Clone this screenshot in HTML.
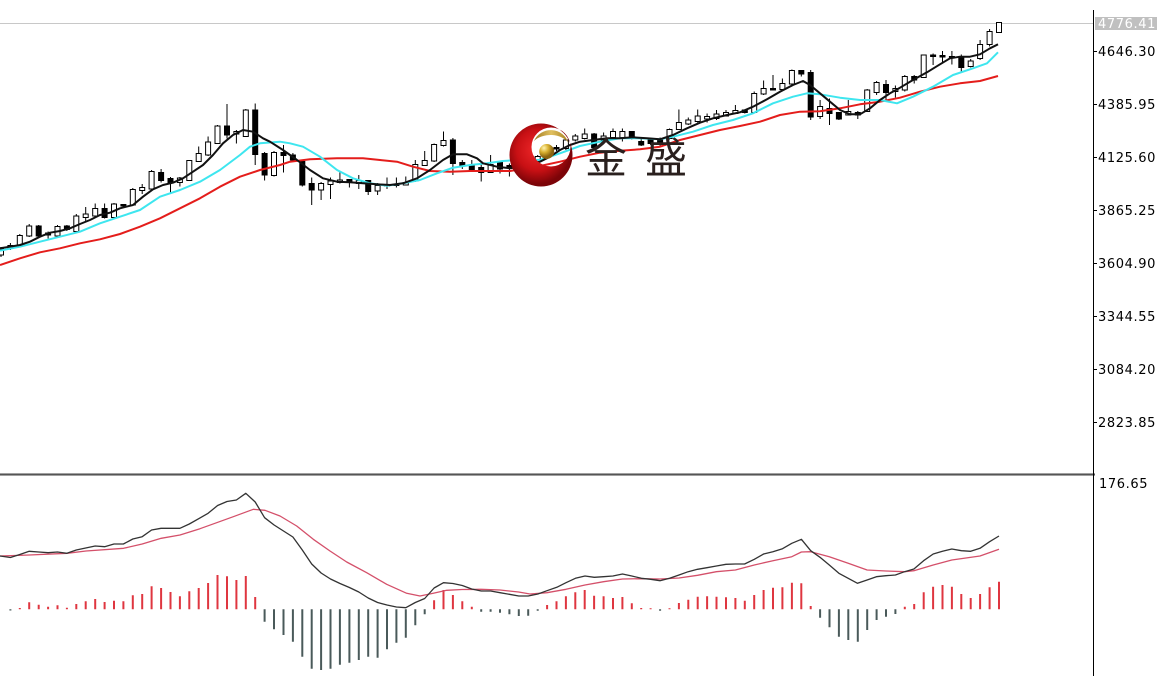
<!DOCTYPE html>
<html><head><meta charset="utf-8"><style>
html,body{margin:0;padding:0;background:#fff;}
svg{display:block;}
.ax{font-family:"DejaVu Sans","Liberation Sans",sans-serif;font-size:13px;letter-spacing:0.6px;fill:#000;}
</style></head><body>
<svg width="1157" height="676" viewBox="0 0 1157 676" xmlns="http://www.w3.org/2000/svg">
<defs>
<radialGradient id="rg" cx="537" cy="150" r="34" gradientUnits="userSpaceOnUse">
<stop offset="0" stop-color="#f0282a"/><stop offset="0.6" stop-color="#c81014"/><stop offset="1" stop-color="#7c0408"/>
</radialGradient>
<radialGradient id="gb" cx="544" cy="148" r="9" gradientUnits="userSpaceOnUse">
<stop offset="0" stop-color="#fff4b0"/><stop offset="0.5" stop-color="#d8b030"/><stop offset="1" stop-color="#8a6410"/>
</radialGradient>
<linearGradient id="ga" x1="0" y1="0" x2="1" y2="0">
<stop offset="0" stop-color="#a07a20"/><stop offset="0.5" stop-color="#e0c060"/><stop offset="1" stop-color="#a88020"/>
</linearGradient>
</defs>
<rect width="1157" height="676" fill="#fff"/>
<line x1="0" y1="23.5" x2="1093" y2="23.5" stroke="#c8c8c8" stroke-width="1"/>
<path fill="none" stroke="#000" stroke-width="1" d="M1 247V257M10.4 243V250M19.8 234V247M29.2 224V237M38.7 225V237M48.1 231.5V238.5M57.5 225V237M66.9 225V231M76.3 214V232M85.7 207V221.5M95.2 203.5V217M104.6 203.5V218.5M114 203V218M123.4 204V206.5M132.8 188V206M142.2 184V194M151.6 170V190M161.1 169V182.5M170.5 177V192.5M179.9 177V186.5M189.3 160V181M198.7 146.5V162M208.1 136.5V156M217.5 125V144M227 104V138.5M236.4 130V143.5M245.8 109V137M255.2 103.5V165M264.6 152V180.5M274 151V176.5M283.5 145V172.5M292.9 153V161.5M302.3 160V186.5M311.7 177.5V205M321.1 182V200M330.5 177.5V199M339.9 172.5V183.5M349.4 179V187.5M358.8 175V189M368.2 180V195M377.6 183V195M387 177.5V189M396.4 177.5V187.5M405.8 176.5V185.5M415.3 160V182M424.7 151V166M434.1 143.5V162M443.5 131.5V146.5M452.9 138V175M462.3 160V169M471.8 160V171.5M481.2 163.5V181.5M490.6 155V173M500 161V173.5M509.4 163.5V176.5M518.8 158V170M528.2 156V168M537.7 155V163M547.1 147V156M556.5 145V151M565.9 139V150M575.3 134V141.5M584.7 128.5V139.5M594.1 133V151.5M603.6 132.5V141.5M613 128.5V138.5M622.4 128.5V141.5M631.8 131V139.5M641.2 137.5V146M650.6 137.5V145M660.1 137.5V146.5M669.5 128.5V139.5M678.9 109.5V130M688.3 117.5V125M697.7 109.5V122.5M707.1 113.5V122.5M716.5 110V120M726 110V116.5M735.4 105V114M744.8 109.5V113.5M754.2 91.5V113M763.6 80.5V95M773 75V90.5M782.4 78.5V90M791.9 69.5V85M801.3 70V76.5M810.7 70V120M820.1 100V119M829.5 98.5V125M838.9 112V120M848.3 100V115.5M857.8 111V119M867.2 89V112M876.6 81V95M886 80V100M895.4 85.5V97.5M904.8 75V91.5M914.2 75V83.5M923.7 54.5V78M933.1 53.5V65M942.5 51V63.5M951.9 51V64.5M961.3 54.5V72.5M970.7 59V67.5M980.1 40V60M989.6 29V46.5M999 22V33"/>
<g fill="#fff" stroke="#000" stroke-width="1">
<rect x="-1.5" y="249" width="5" height="6"/><rect x="7.9" y="245.5" width="5" height="3"/><rect x="17.3" y="235.5" width="5" height="10"/><rect x="26.7" y="226" width="5" height="10"/><rect x="55" y="226.5" width="5" height="9.5"/><rect x="73.8" y="216" width="5" height="15.5"/><rect x="83.2" y="214" width="5" height="3.5"/><rect x="92.7" y="208.5" width="5" height="7.5"/><rect x="111.5" y="204" width="5" height="13.5"/><rect x="130.3" y="189.5" width="5" height="15.5"/><rect x="139.7" y="187.5" width="5" height="3"/><rect x="149.1" y="171.5" width="5" height="17.5"/><rect x="177.4" y="178" width="5" height="4.5"/><rect x="186.8" y="160.5" width="5" height="20"/><rect x="196.2" y="153.5" width="5" height="8"/><rect x="205.6" y="142" width="5" height="13"/><rect x="215" y="126" width="5" height="17.5"/><rect x="233.9" y="131.5" width="5" height="2.5"/><rect x="243.3" y="110" width="5" height="26.5"/><rect x="271.5" y="152.5" width="5" height="23"/><rect x="318.6" y="183.5" width="5" height="6.5"/><rect x="328" y="181" width="5" height="3.5"/><rect x="337.4" y="180" width="5" height="2.5"/><rect x="356.3" y="180.5" width="5" height="3"/><rect x="375.1" y="185.5" width="5" height="5.5"/><rect x="403.3" y="182.5" width="5" height="2.5"/><rect x="412.8" y="164.5" width="5" height="16.5"/><rect x="422.2" y="160.5" width="5" height="5"/><rect x="431.6" y="144.5" width="5" height="16.5"/><rect x="441" y="140.5" width="5" height="5"/><rect x="488.1" y="164.5" width="5" height="8"/><rect x="516.3" y="162" width="5" height="4"/><rect x="525.7" y="160" width="5" height="4"/><rect x="535.2" y="156.5" width="5" height="5"/><rect x="544.6" y="150" width="5" height="3"/><rect x="563.4" y="140" width="5" height="8.5"/><rect x="572.8" y="136" width="5" height="4"/><rect x="582.2" y="134" width="5" height="4.5"/><rect x="601.1" y="136" width="5" height="4"/><rect x="610.5" y="131.5" width="5" height="6"/><rect x="619.9" y="131.5" width="5" height="6"/><rect x="667" y="129.5" width="5" height="9"/><rect x="676.4" y="122.5" width="5" height="7"/><rect x="685.8" y="120" width="5" height="4"/><rect x="695.2" y="116" width="5" height="5.5"/><rect x="704.6" y="116.5" width="5" height="2.5"/><rect x="714" y="114" width="5" height="4.5"/><rect x="723.5" y="112.5" width="5" height="3.5"/><rect x="732.9" y="110.5" width="5" height="3"/><rect x="751.7" y="93.5" width="5" height="19"/><rect x="761.1" y="88.5" width="5" height="5.5"/><rect x="779.9" y="83.5" width="5" height="6"/><rect x="789.4" y="70.5" width="5" height="13.5"/><rect x="817.6" y="106.5" width="5" height="10"/><rect x="845.8" y="111.5" width="5" height="3.5"/><rect x="864.7" y="90" width="5" height="21.5"/><rect x="874.1" y="82.5" width="5" height="10"/><rect x="892.9" y="88.5" width="5" height="3"/><rect x="902.3" y="76.5" width="5" height="13.5"/><rect x="921.2" y="55" width="5" height="22.5"/><rect x="968.2" y="61" width="5" height="5.5"/><rect x="977.6" y="44.5" width="5" height="14"/><rect x="987.1" y="31.5" width="5" height="13"/><rect x="996.5" y="22.5" width="5" height="10"/>
</g>
<g fill="#000">
<rect x="35.7" y="225.5" width="6" height="11"/><rect x="45.1" y="232.5" width="6" height="3"/><rect x="63.9" y="225.5" width="6" height="4.5"/><rect x="101.6" y="208" width="6" height="10"/><rect x="120.4" y="204" width="6" height="2.5"/><rect x="158.1" y="172" width="6" height="9"/><rect x="167.5" y="178" width="6" height="5"/><rect x="224" y="125.5" width="6" height="10"/><rect x="252.2" y="109.5" width="6" height="45.5"/><rect x="261.6" y="153" width="6" height="22.5"/><rect x="280.5" y="152" width="6" height="4"/><rect x="289.9" y="154.5" width="6" height="6"/><rect x="299.3" y="161" width="6" height="24.5"/><rect x="308.7" y="183" width="6" height="7.5"/><rect x="346.4" y="179" width="6" height="4"/><rect x="365.2" y="180" width="6" height="12"/><rect x="384" y="184" width="6" height="2.5"/><rect x="393.4" y="183.5" width="6" height="2.5"/><rect x="449.9" y="139.5" width="6" height="24.5"/><rect x="459.3" y="162" width="6" height="4.5"/><rect x="468.8" y="165" width="6" height="5.5"/><rect x="478.2" y="167" width="6" height="6"/><rect x="497" y="162" width="6" height="7.5"/><rect x="506.4" y="165" width="6" height="3"/><rect x="553.5" y="147" width="6" height="2.5"/><rect x="591.1" y="133.5" width="6" height="14.5"/><rect x="628.8" y="131" width="6" height="8"/><rect x="638.2" y="141" width="6" height="4.5"/><rect x="647.6" y="139.5" width="6" height="4.5"/><rect x="657.1" y="139.5" width="6" height="4.5"/><rect x="741.8" y="109.5" width="6" height="3.5"/><rect x="770" y="88" width="6" height="2.5"/><rect x="798.3" y="70" width="6" height="4.5"/><rect x="807.7" y="72" width="6" height="45.5"/><rect x="826.5" y="108" width="6" height="6"/><rect x="835.9" y="112" width="6" height="7.5"/><rect x="854.8" y="112" width="6" height="3.5"/><rect x="883" y="84" width="6" height="9"/><rect x="911.2" y="76" width="6" height="4.5"/><rect x="930.1" y="54.5" width="6" height="2.5"/><rect x="939.5" y="55" width="6" height="2.5"/><rect x="948.9" y="56" width="6" height="2.5"/><rect x="958.3" y="56" width="6" height="12"/>
</g>
<polyline fill="none" stroke="#e41d1b" stroke-width="2" stroke-linejoin="round" points="0,265 20,258.3 40,252.3 60,248.3 80,243.3 100,239.3 120,234 140,226.7 160,218.3 180,208.3 200,198.3 220,186.7 240,176.7 260,170 280,165 290,161.7 310,159.3 337,158.3 363,158.3 380,160 397,161.7 413,166.7 430,171 450,171.7 470,171 510,171 540,166 560,161.7 580,156.7 600,152.7 620,150.7 640,149.3 660,146.7 680,140 700,135 720,130 740,126 760,121.7 780,115 800,111.7 820,111.2 840,108.3 860,104.3 880,101.7 900,97.7 920,91.7 940,86.7 960,83.3 980,81 998,76"/>
<polyline fill="none" stroke="#3ee6ef" stroke-width="2" stroke-linejoin="round" points="0,250.7 20,246.7 40,241.7 60,236.7 80,231.7 100,223.3 120,216.7 140,210 160,196.7 180,190 200,181.7 220,170 240,155 250,146.7 260,143.3 280,141.7 290,143.3 303,146.7 320,156.7 337,170 353,178.3 370,183.3 387,185.7 403,183.3 420,180 437,173.3 453,167.7 470,165 487,163.3 503,161 517,160 540,160 560,153.3 580,146 600,141.7 620,138.3 640,138.3 660,139.3 673,136.7 693,131.7 713,125 733,120 753,113.3 773,103.3 793,96.7 807,93.3 820,94.3 840,97.7 860,100 880,100 897,103.3 913,96.7 933,86.7 953,75 973,68.3 987,63.3 998,52.3"/>
<polyline fill="none" stroke="#111" stroke-width="2" stroke-linejoin="round" points="0,248.3 10,246.7 20,245 30,241.7 40,236.7 50,232.7 60,231 70,228.3 80,224 90,220 100,215 110,212.7 120,208.3 133,205 143,196.7 153,189.3 163,185 173,182.7 183,178.3 193,171.7 203,165 213,155 223,143.3 233,135 243,130 253,131.7 263,138.3 270,141.7 283,150 297,160 310,170 323,178.3 337,181.7 350,182.3 363,183.3 377,184.3 390,185 403,183.3 417,178.3 430,170 443,160 453,154.3 467,154.3 477,158.3 483,163.3 497,166.7 510,168.3 525,166 540,161.7 550,156.7 560,150 570,145 580,141.7 593,140 607,138.3 620,138.3 633,137.3 647,138.3 660,139.3 673,135 687,128.3 700,122.7 713,118.3 727,115 740,112.3 753,106.7 767,99.3 780,91.7 793,85 803,81 810,85 820,93.3 830,101.7 840,110 850,114.3 860,114.3 870,108.3 880,100 890,93.3 900,87.7 913,80 927,72.3 940,64.3 950,58.3 960,56.7 970,56.7 980,54.3 990,48.3 998,44.3"/>
<path fill="url(#rg)" fill-rule="evenodd" d="M509.5,155a31.5,31.5 0 1,0 63,0a31.5,31.5 0 1,0 -63,0ZM531.5,147a19.5,19.5 0 1,0 39,0a19.5,19.5 0 1,0 -39,0Z"/>
<path fill="url(#ga)" d="M534,141A18.5,18.5 0 0 1 568.5,143A20,14 0 0 0 534,141Z"/>
<circle cx="546.7" cy="151.5" r="7.5" fill="url(#gb)"/>
<text x="585" y="173" font-family="'Noto Sans CJK SC','WenQuanYi Zen Hei',sans-serif" font-size="42" fill="#2a201e">金</text>
<text x="645" y="173" font-family="'Noto Sans CJK SC','WenQuanYi Zen Hei',sans-serif" font-size="42" fill="#2a201e">盛</text>
<path fill="none" stroke="#df3640" stroke-width="2" d="M19.8 609.3V608M29.2 609.3V602.3M38.7 609.3V604.7M48.1 609.3V606.7M57.5 609.3V605.3M66.9 609.3V607.7M76.3 609.3V604M85.7 609.3V601.3M95.2 609.3V599M104.6 609.3V602M114 609.3V600.7M123.4 609.3V601.3M132.8 609.3V595.3M142.2 609.3V594M151.6 609.3V586.3M161.1 609.3V588M170.5 609.3V592M179.9 609.3V596.3M189.3 609.3V591.3M198.7 609.3V588M208.1 609.3V583M217.5 609.3V575M227 609.3V576.3M236.4 609.3V580M245.8 609.3V576M255.2 609.3V597M434.1 609.3V600.3M443.5 609.3V590M452.9 609.3V595M462.3 609.3V601.3M471.8 609.3V606.7M547.1 609.3V605M556.5 609.3V601.3M565.9 609.3V596.3M575.3 609.3V592.3M584.7 609.3V590M594.1 609.3V595.7M603.6 609.3V596.3M613 609.3V598M622.4 609.3V597M631.8 609.3V603.3M641.2 609.3V608M650.6 609.3V608.3M669.5 609.3V608.3M678.9 609.3V603M688.3 609.3V599.7M697.7 609.3V596.7M707.1 609.3V596.3M716.5 609.3V596.7M726 609.3V597.3M735.4 609.3V598M744.8 609.3V600.7M754.2 609.3V595M763.6 609.3V590M773 609.3V587.7M782.4 609.3V587.3M791.9 609.3V582.7M801.3 609.3V583.3M810.7 609.3V606M904.8 609.3V606.7M914.2 609.3V604M923.7 609.3V592.3M933.1 609.3V586.7M942.5 609.3V585M951.9 609.3V586.7M961.3 609.3V594M970.7 609.3V598M980.1 609.3V594M989.6 609.3V587.3M999 609.3V581.7"/>
<path fill="none" stroke="#4a5a5a" stroke-width="2" d="M10.4 609.3V610.5M264.6 609.3V621.7M274 609.3V629.3M283.5 609.3V635M292.9 609.3V641.7M302.3 609.3V656.7M311.7 609.3V668.7M321.1 609.3V670M330.5 609.3V668.7M339.9 609.3V664.7M349.4 609.3V662.7M358.8 609.3V660M368.2 609.3V656.7M377.6 609.3V657.7M387 609.3V649.3M396.4 609.3V642.7M405.8 609.3V637.7M415.3 609.3V625.3M424.7 609.3V614.3M481.2 609.3V611.7M490.6 609.3V611.7M500 609.3V612.7M509.4 609.3V614.3M518.8 609.3V616M528.2 609.3V615.7M537.7 609.3V610.8M660.1 609.3V610.8M820.1 609.3V617.7M829.5 609.3V627.3M838.9 609.3V636.7M848.3 609.3V640M857.8 609.3V641.7M867.2 609.3V630M876.6 609.3V620M886 609.3V616.7M895.4 609.3V614"/>
<polyline fill="none" stroke="#d4506a" stroke-width="1.3" stroke-linejoin="round" points="0,556 29.3,555 67,553.3 86,551 123.6,548.3 142.2,544 161.2,538.3 180,535 200,528.7 216.7,522.7 233.3,516.7 253.3,509.3 265,510.3 280,516 296.7,526 313.3,539.3 330,551 346.7,562 366.7,572.7 386.7,584.3 406.7,593.3 420,596 433.3,593.3 446.7,590.3 462,589.5 481,589.3 500,590 518.6,592 530,594 547,592.7 566,589.3 585,585 603.6,581.7 622.5,579 641.4,578.7 660,579 679,578 697.5,575.3 716.4,571.7 735.4,570 754.3,565 772.9,560.7 791.8,556.7 801.4,552 810.7,551.7 829.3,556.7 848.2,563.3 867.1,570 886,571 904.6,571.7 913.9,570.7 933.2,565 951.8,560 980,556 999,549.3"/>
<polyline fill="none" stroke="#333" stroke-width="1.3" stroke-linejoin="round" points="0,556 10.4,557.5 19.8,554.5 29.2,551.3 38.7,552 48.1,552.7 57.5,552 66.9,553.3 76.3,550 85.7,548 95.2,546 104.6,546.7 114,544 123.4,544 132.8,539 142.2,536.7 151.6,530 161,528.3 170.5,528.3 179.9,528.3 189.3,524 198.7,518.7 208.1,513.3 217.6,505.5 227,501.5 236.4,500 245.8,493.3 255.2,502 264.6,517.7 274.1,525 283.5,531 292.9,537 302.3,550 311.7,564 321.1,573 330.5,579 340,583.5 349.4,587.5 358.8,592 368.2,598 377.6,602.5 387,605 396.4,607 405.8,607.7 415.3,602.5 424.7,598.5 434.1,588 443.5,582.7 452.9,583.5 462.3,585.5 471.7,589 481.2,591 490.6,591 500,592.7 509.4,594.3 518.8,596 528.2,596 537.9,594 547,590.7 556.8,587.3 566,582.7 575.4,578.3 585,576 594.3,577.3 603.6,576.7 612.9,576 622.5,574 631.8,576 641.4,578.3 650.7,579.3 660,580.7 669.6,578.3 679,575 688.2,571.7 697.5,569.3 707,567.7 716.4,566 726,564.3 735.4,564 744.6,564 754.3,559.3 763.6,554 772.9,551.7 782.5,548.7 791.8,543.3 801.4,539.3 810.7,550.7 820,557.3 829.3,565 838.9,573.3 848.2,578.3 857.5,583.3 867.1,580 876.4,576.7 886,575.7 895.4,575 904.6,571.7 913.9,569 923.6,560.7 933.2,554 942.5,551.3 951.8,549 961.4,550.7 970.7,551.3 980,548.3 989.6,541.7 999,536"/>
<rect x="0" y="473" width="1095" height="3" fill="#a0a0a0"/>
<line x1="0" y1="474.5" x2="1095" y2="474.5" stroke="#555" stroke-width="1"/>
<line x1="1093.5" y1="10" x2="1093.5" y2="676" stroke="#000" stroke-width="1"/>
<path stroke="#000" stroke-width="1" d="M1093 51.5H1097M1093 104.5H1097M1093 157.5H1097M1093 210.5H1097M1093 263.5H1097M1093 316.5H1097M1093 369.5H1097M1093 422.5H1097"/>
<rect x="1095" y="17" width="62" height="13" fill="#c0c0c0"/>
<text class="ax" x="1098" y="28" style="fill:#fff">4776.41</text>
<text class="ax" x="1098" y="56">4646.30</text>
<text class="ax" x="1098" y="109">4385.95</text>
<text class="ax" x="1098" y="162">4125.60</text>
<text class="ax" x="1098" y="215">3865.25</text>
<text class="ax" x="1098" y="268">3604.90</text>
<text class="ax" x="1098" y="321">3344.55</text>
<text class="ax" x="1098" y="374">3084.20</text>
<text class="ax" x="1098" y="427">2823.85</text>
<text class="ax" x="1099" y="488">176.65</text>
</svg>
</body></html>
